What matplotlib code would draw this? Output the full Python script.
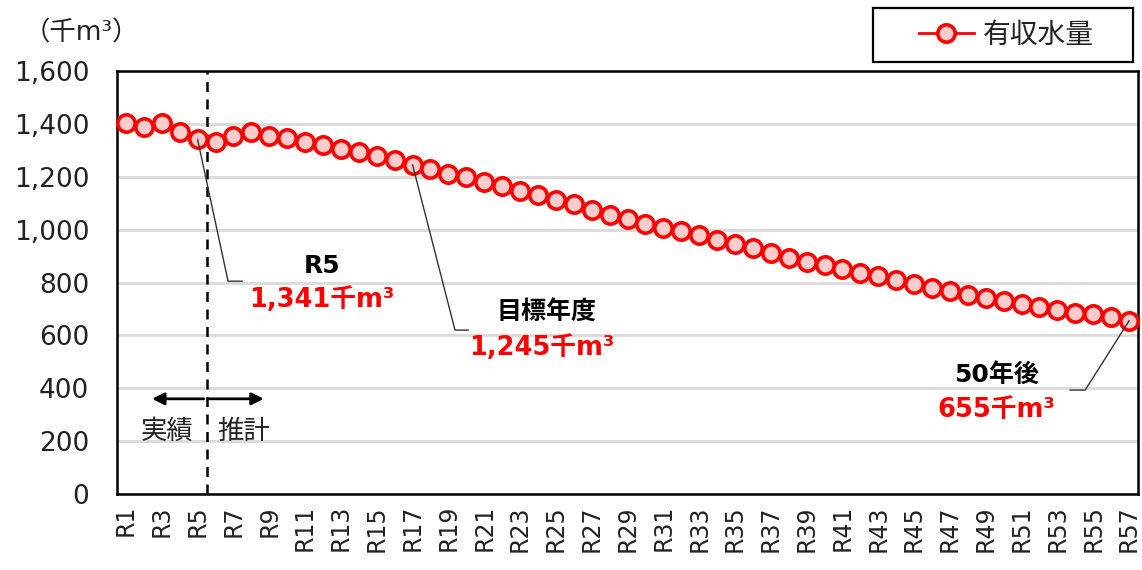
import matplotlib
matplotlib.use("Agg")
import matplotlib.pyplot as plt
from matplotlib.patches import Rectangle
from matplotlib.lines import Line2D

plt.rcParams['font.family'] = ['DejaVu Sans', 'Noto Sans CJK JP']

# Annual billed water volume (thousand m3), R1 .. R57
years = [f"R{i}" for i in range(1, 58)]
volume = [
    1402, 1389, 1404, 1368, 1341, 1333, 1354, 1370, 1355, 1345,
    1330, 1320, 1305, 1292, 1280, 1263, 1245, 1231, 1212, 1199,
    1181, 1164, 1147, 1130, 1112, 1096, 1074, 1054, 1040, 1021,
    1005, 995, 979, 961, 945, 929, 910, 892, 878, 865,
    850, 835, 826, 810, 795, 779, 768, 753, 742, 730,
    720, 708, 696, 686, 679, 669, 655,
]
yticks = [0, 200, 400, 600, 800, 1000, 1200, 1400, 1600]

series_name = "有収水量"
unit_label = "（千m³）"

RED = "#ff0000"
FILL = "#ffcccc"
TXT = "#222222"

fig = plt.figure(figsize=(11.42, 5.70), dpi=100)
ax = fig.add_axes([117 / 1142, 1 - 494 / 570, (1138 - 117) / 1142, (494 - 71) / 570])

x = list(range(1, len(years) + 1))
ax.plot(x, volume, color=RED, lw=2, marker="o", markersize=12.5,
        markerfacecolor=FILL, markeredgecolor=RED, markeredgewidth=2.6,
        zorder=4, clip_on=False)

ax.set_xlim(0.5, len(years) + 0.5)
ax.set_ylim(0, 1600)
ax.set_yticks(yticks)
ax.set_yticklabels([f"{v:,}" for v in yticks], fontsize=19)
ax.set_xticks(x[::2])
ax.set_xticklabels(years[::2], rotation=90, fontsize=17)
ax.tick_params(axis="both", length=0, colors=TXT)
ax.tick_params(axis="y", pad=20)
ax.tick_params(axis="x", pad=8)

ax.grid(axis="y", color="#d9d9d9", lw=2, zorder=0)
ax.set_axisbelow(True)
for s in ax.spines.values():
    s.set_color("black")
    s.set_linewidth(1.8)

# boundary between actual and projected values
ax.axvline(5.5, color="black", lw=1.8, ls=(0, (4, 3)), zorder=3)
ax.annotate("", xy=(2.3, 360), xytext=(5.5, 360),
            arrowprops=dict(arrowstyle="-|>", color="black", lw=2, mutation_scale=18))
ax.annotate("", xy=(8.85, 360), xytext=(5.5, 360),
            arrowprops=dict(arrowstyle="-|>", color="black", lw=2, mutation_scale=18))
ax.text(3.3, 234, "実績", ha="center", va="center", fontsize=19, color=TXT)
ax.text(7.55, 234, "推計", ha="center", va="center", fontsize=19, color=TXT)


def callout(idx, elbow, end, title, tpos, vpos):
    px, py = x[idx], volume[idx]
    ax.plot([px, elbow[0], end], [py, elbow[1], elbow[1]], color="#333333",
            lw=1, zorder=5)
    ax.text(tpos[0], tpos[1], title, ha="center", va="center", fontsize=18,
            fontweight="bold", color="black")
    ax.text(vpos[0], vpos[1], f"{volume[idx]:,}千m³", ha="center", va="center",
            fontsize=18.5, fontweight="bold", color=RED)


callout(4, (6.70, 805), 7.48, "R5", (11.95, 862), (11.95, 733))
callout(16, (19.37, 620), 20.1, "目標年度", (24.5, 684), (24.2, 552))
callout(56, (54.55, 393), 53.71, "50年後", (49.6, 450), (49.6, 318))

fig.text(24 / 1142, 1 - 33 / 570, unit_label, fontsize=19, ha="left", va="center",
         color=TXT)

# legend box
fig.patches.append(Rectangle((873 / 1142, 1 - 62 / 570), 260 / 1142, 54 / 570,
                             transform=fig.transFigure, fill=False,
                             edgecolor="black", lw=1.6))
handle = Line2D([], [], color=RED, lw=2, marker="o", markersize=12.5,
                markerfacecolor=FILL, markeredgecolor=RED, markeredgewidth=2.6)
fig.legend([handle], [series_name], loc="center",
           bbox_to_anchor=(1006 / 1142, 1 - 35 / 570), frameon=False,
           fontsize=20, handlelength=2.0, handletextpad=0.3,
           labelcolor=TXT)

fig.savefig("out.png", dpi=100)
